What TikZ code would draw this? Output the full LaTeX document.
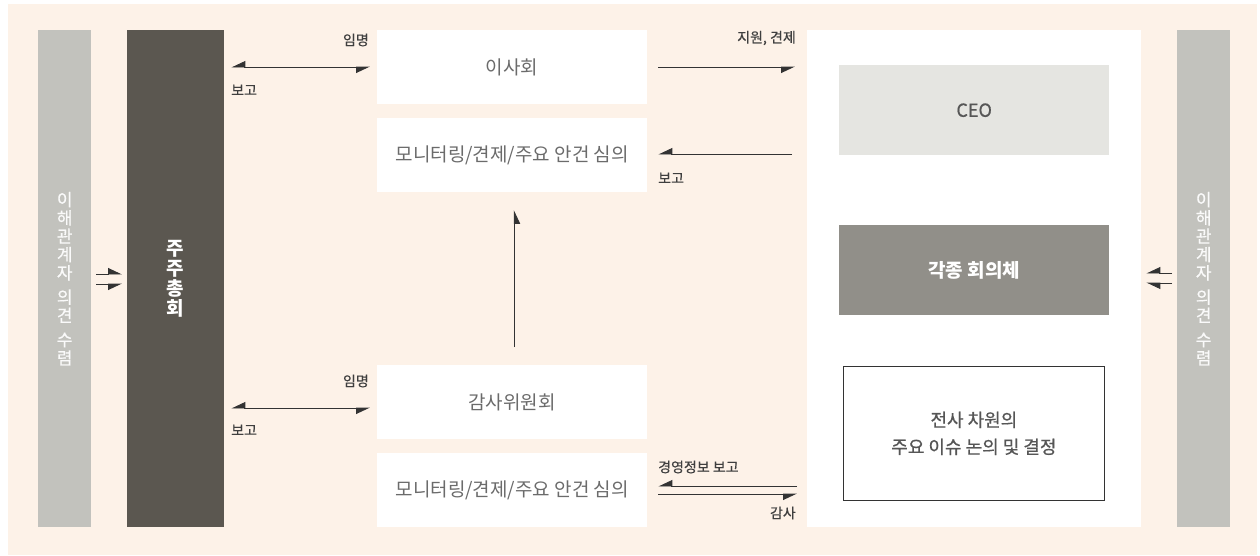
\documentclass[tikz,border=0pt]{standalone}
\usepackage{fontspec}
\setmainfont{Noto Sans CJK KR}
\newfontfamily\krmed[FakeBold=0.6]{Noto Sans CJK KR}
\usetikzlibrary{arrows.meta}
\definecolor{bg}{HTML}{FDF2E8}
\definecolor{side}{HTML}{C2C2BD}
\definecolor{dark}{HTML}{5B5750}
\definecolor{ceo}{HTML}{E5E5E1}
\definecolor{meet}{HTML}{918F89}
\definecolor{boxtxt}{HTML}{6B6B6B}
\definecolor{lbl}{HTML}{3F3F3F}
\definecolor{linec}{HTML}{333333}
\begin{document}
\begin{tikzpicture}[x=1pt,y=-1pt,
  box/.style={rectangle, inner sep=0pt, anchor=north west},
  whitebox/.style={box, fill=white, minimum width=270pt, minimum height=74pt, text=boxtxt, font=\fontsize{19}{22}\selectfont},
  sidebar/.style={box, fill=side, minimum width=53pt, minimum height=497pt, text=white!92!side, font=\krmed\fontsize{17}{18.3}\selectfont, align=center},
  lbltext/.style={inner sep=0pt, text=lbl, font=\krmed\fontsize{14}{16}\selectfont},
  ln/.style={draw=linec, line width=0.9pt},
  tipR/.style={-{Triangle[harpoon,swap,length=13pt,width=12pt]}},
  tipL/.style={-{Triangle[harpoon,length=13pt,width=12pt]}},
  tipBoth/.style={{Triangle[harpoon,swap,length=13pt,width=12pt]}-{Triangle[harpoon,swap,length=13pt,width=12pt]}},
]
\useasboundingbox (0,0) rectangle (1260,555);
\fill[bg] (8,4) rectangle (1257,555);

% side bars
\node[sidebar] (sideL) at (38,30) {이\\해\\관\\계\\자\\[6pt]의\\견\\[6pt]수\\렴};
\node[sidebar] (sideR) at (1177,30) {이\\해\\관\\계\\자\\[6pt]의\\견\\[6pt]수\\렴};
\node[box, fill=dark, minimum width=97pt, minimum height=497pt, text=white, font=\bfseries\fontsize{19}{19.8}\selectfont, align=center] (gm) at (127,30) {주\\주\\총\\회};

% middle boxes
\node[whitebox] (board) at (377,30) {이사회};
\node[whitebox] (mon1) at (377,118) {모니터링/견제/주요 안건 심의};
\node[whitebox] (audit) at (377,365) {감사위원회};
\node[whitebox] (mon2) at (377,453) {모니터링/견제/주요 안건 심의};

% right big box
\node[box, fill=white, minimum width=334pt, minimum height=497pt] (big) at (807,30) {};
\node[box, fill=ceo, minimum width=270pt, minimum height=90pt, text=boxtxt!80!black, font=\krmed\fontsize{18}{20}\selectfont] (ceo) at (839,65) {CEO};
\node[box, fill=meet, minimum width=270pt, minimum height=90pt, text=white, font=\bfseries\fontsize{19}{22}\selectfont] (meet) at (839,225) {각종 회의체};
\node[box, draw=linec, line width=0.8pt, fill=white, minimum width=261pt, minimum height=134pt, text=boxtxt!80!black, font=\krmed\fontsize{18}{27}\selectfont, align=center] (decide) at (843,366) {전사 차원의\\주요 이슈 논의 및 결정};

% stakeholder arrows left
\draw[ln, tipL] ([xshift=5pt]sideL.east |- 0,274) -- ([xshift=-5pt]gm.west |- 0,274);
\draw[ln, tipR] ([xshift=5pt]sideL.east |- 0,284) -- ([xshift=-5pt]gm.west |- 0,284);
% stakeholder arrows right
\draw[ln, tipR] ([xshift=-5pt]sideR.west |- 0,273) -- ([xshift=5pt]big.east |- 0,273);
\draw[ln, tipL] ([xshift=-5pt]sideR.west |- 0,283) -- ([xshift=5pt]big.east |- 0,283);

% GM <-> board / audit
\draw[ln, tipBoth] ([xshift=7pt]gm.east |- 0,67) -- ([xshift=-7pt]board.west |- 0,67);
\node[lbltext, anchor=east] (l1) at (369,40) {임명};
\node[lbltext, anchor=west] (l2) at (231,90) {보고};
\draw[ln, tipBoth] ([xshift=7pt]gm.east |- 0,408) -- ([xshift=-7pt]audit.west |- 0,408);
\node[lbltext, anchor=east] (l3) at (369,381) {임명};
\node[lbltext, anchor=west] (l4) at (231,430) {보고};

% board <-> CEO
\draw[ln, tipR] ([xshift=11pt]board.east |- 0,67) -- ([xshift=-12pt]big.west |- 0,67);
\node[lbltext, anchor=east] (l5) at (796,38) {지원, 견제};
\draw[ln, tipR] ([xshift=-15pt]big.west |- 0,154) -- ([xshift=11pt]mon1.east |- 0,154);
\node[lbltext, anchor=west] (l6) at (658,178) {보고};

% audit -> board
\draw[ln, tipR] ([xshift=2pt]audit.north |- 0,347) -- ([xshift=2pt]mon1.south |- 0,210);

% audit <-> management
\draw[ln, tipR] ([xshift=-10pt]big.west |- 0,486) -- ([xshift=11pt]mon2.east |- 0,486);
\node[lbltext, anchor=west] (l7) at (658,467) {경영정보 보고};
\draw[ln, tipR] ([xshift=11pt]mon2.east |- 0,494) -- ([xshift=-10pt]big.west |- 0,494);
\node[lbltext, anchor=east] (l8) at (796,513) {감사};
\end{tikzpicture}
\end{document}
